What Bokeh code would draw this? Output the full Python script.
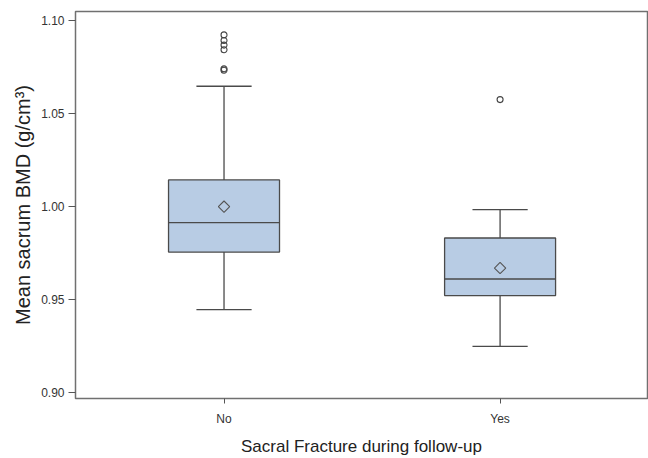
import numpy as np
from bokeh.plotting import figure
from bokeh.models import FixedTicker, Range1d
from bokeh.embed import file_html
from bokeh.resources import INLINE

# ---- data ----
categories = ["No", "Yes"]
q1 = [0.9754, 0.9520]
median = [0.9913, 0.9609]
q3 = [1.0143, 0.9830]
mean = [0.9999, 0.9668]
whisker_low = [0.9444, 0.9246]
whisker_high = [1.0648, 0.9983]
outliers_no = [1.0925, 1.0895, 1.0870, 1.0845, 1.0742, 1.0734]
outliers_yes = [1.0576]
y_ticks = [0.90, 0.95, 1.00, 1.05, 1.10]
y_title = "Mean sacrum BMD (g/cm³)"
x_title = "Sacral Fracture during follow-up"

FONT = "Liberation Sans"
BOX_FILL = "#b8cce4"
LINE = "#4a4a4a"

xpos = [i + 1 for i in range(len(categories))]
box_w = 0.402
cap_w = 0.20

p = figure(width=648, height=458, output_backend="svg", toolbar_location=None,
           x_range=Range1d(0.462, 2.534), y_range=Range1d(0.8965, 1.1051),
           min_border_left=75, min_border_right=1, min_border_top=11,
           min_border_bottom=59)
p.background_fill_color = "white"
p.border_fill_color = "white"
p.outline_line_color = "#707070"
p.outline_line_width = 1.5
p.xgrid.visible = False
p.ygrid.visible = False

# whiskers
p.segment(x0=xpos, x1=xpos, y0=q3, y1=whisker_high, line_color=LINE, line_width=1.3)
p.segment(x0=xpos, x1=xpos, y0=q1, y1=whisker_low, line_color=LINE, line_width=1.3)
p.segment(x0=[x - cap_w / 2 for x in xpos], x1=[x + cap_w / 2 for x in xpos],
          y0=whisker_high, y1=whisker_high, line_color=LINE, line_width=1.3)
p.segment(x0=[x - cap_w / 2 for x in xpos], x1=[x + cap_w / 2 for x in xpos],
          y0=whisker_low, y1=whisker_low, line_color=LINE, line_width=1.3)

# boxes
p.quad(left=[x - box_w / 2 for x in xpos], right=[x + box_w / 2 for x in xpos],
       bottom=q1, top=q3, fill_color=BOX_FILL, line_color=LINE, line_width=1.3)
# medians
p.segment(x0=[x - box_w / 2 for x in xpos], x1=[x + box_w / 2 for x in xpos],
          y0=median, y1=median, line_color=LINE, line_width=1.3)
# means
p.scatter(x=xpos, y=mean, marker="square", angle=np.pi / 4, size=8,
          fill_color=None, line_color="#555555", line_width=1.1)
# outliers
p.scatter(x=[xpos[0]] * len(outliers_no), y=outliers_no, marker="circle", size=6,
          fill_color=None, line_color="#444444", line_width=1.1)
p.scatter(x=[xpos[1]] * len(outliers_yes), y=outliers_yes, marker="circle", size=6,
          fill_color=None, line_color="#444444", line_width=1.1)

# axes
p.xaxis.ticker = FixedTicker(ticks=xpos)
p.xaxis.major_label_overrides = {x: c for x, c in zip(xpos, categories)}
p.yaxis.ticker = FixedTicker(ticks=y_ticks)
p.yaxis.major_label_overrides = {t: f"{t:.2f}" for t in y_ticks}

for ax in (p.xaxis[0], p.yaxis[0]):
    ax.axis_line_color = None
    ax.major_tick_line_color = "#555555"
    ax.major_tick_in = 0
    ax.minor_tick_line_color = None
    ax.major_label_text_font = FONT
    ax.major_label_text_font_size = "12px"
    ax.major_label_text_color = "#333333"
    ax.axis_label_text_font = FONT
    ax.axis_label_text_font_style = "normal"
    ax.axis_label_text_color = "#222222"

p.yaxis.major_tick_out = 7
p.yaxis.major_label_standoff = 4
p.yaxis.axis_label = y_title
p.yaxis.axis_label_text_font_size = "20px"
p.yaxis.axis_label_standoff = 4

p.xaxis.major_tick_out = 5
p.xaxis.major_label_standoff = 8
p.xaxis.axis_label = x_title
p.xaxis.axis_label_text_font_size = "17px"
p.xaxis.axis_label_standoff = 8

open("out.html", "w").write(file_html(p, INLINE))
